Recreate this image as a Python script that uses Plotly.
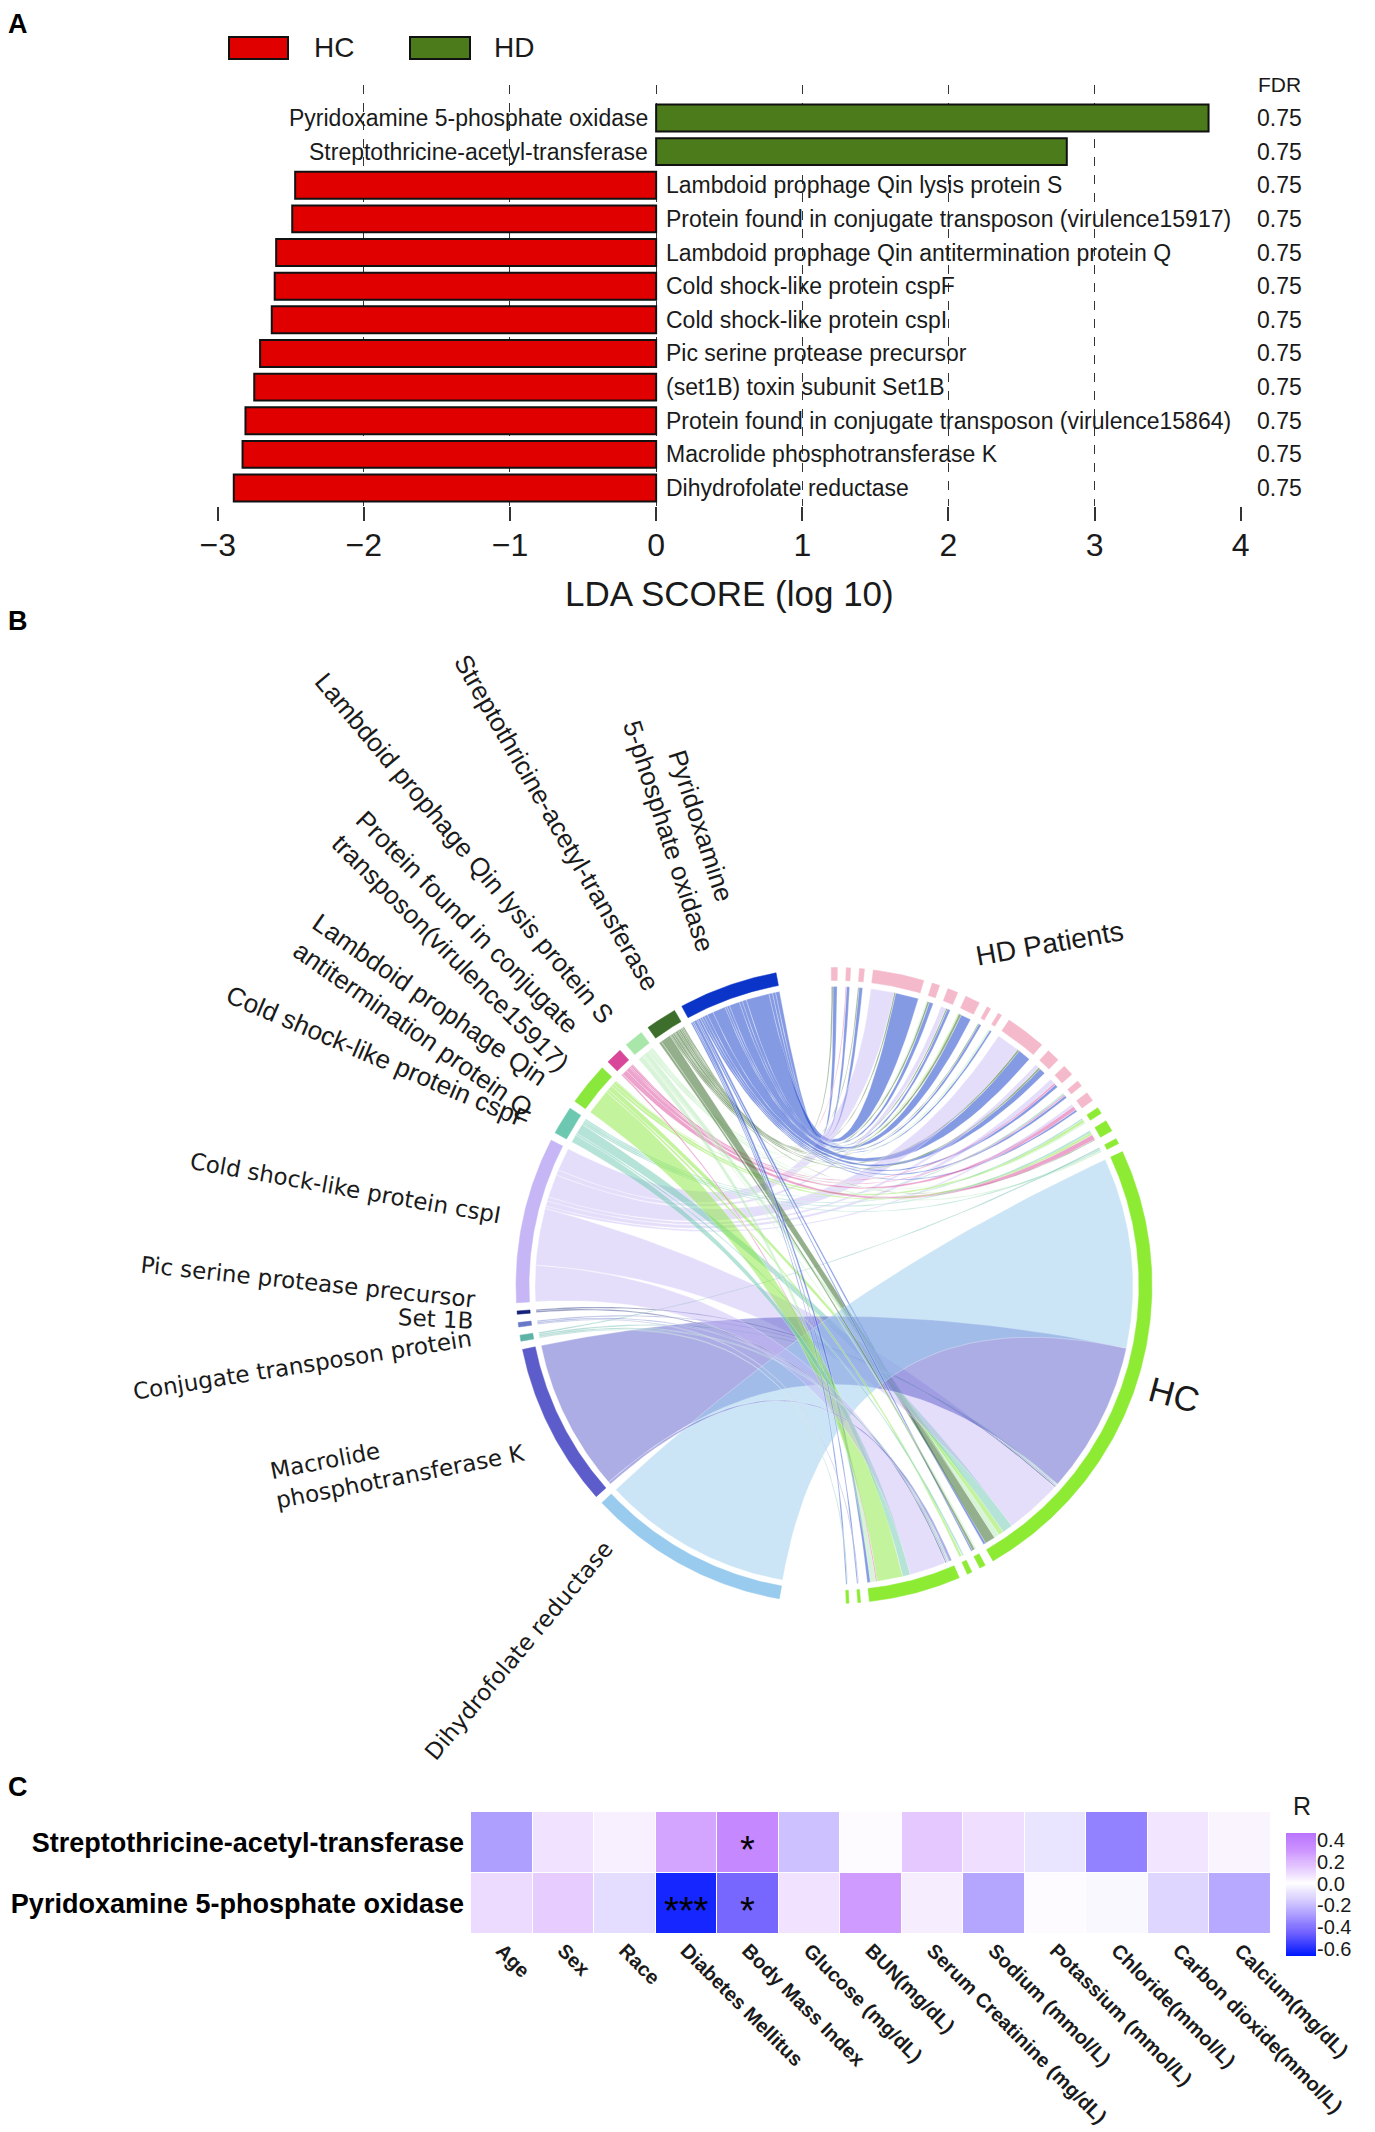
import numpy as np
import plotly.graph_objects as go

W, H = 1375, 2132


def px(x):
    return x / W


def py(y):
    return 1 - y / H


# ---------------- Panel A : LEfSe LDA scores ----------------
lda_features = [
    "Pyridoxamine 5-phosphate oxidase",
    "Streptothricine-acetyl-transferase",
    "Lambdoid prophage Qin lysis protein S",
    "Protein found in conjugate transposon (virulence15917)",
    "Lambdoid prophage Qin antitermination protein Q",
    "Cold shock-like protein cspF",
    "Cold shock-like protein cspI",
    "Pic serine protease precursor",
    "(set1B) toxin subunit Set1B",
    "Protein found in conjugate transposon (virulence15864)",
    "Macrolide phosphotransferase K",
    "Dihydrofolate reductase",
]
lda_scores = [3.78, 2.81, -2.47, -2.49, -2.60, -2.61, -2.63, -2.71, -2.75, -2.81, -2.83, -2.89]
lda_groups = ["HD", "HD", "HC", "HC", "HC", "HC", "HC", "HC", "HC", "HC", "HC", "HC"]
lda_fdr = ["0.75", "0.75", "0.75", "0.75", "0.75", "0.75", "0.75", "0.75", "0.75", "0.75", "0.75", "0.75"]
lda_ticks = [-3, -2, -1, 0, 1, 2, 3, 4]
group_names = ["HC", "HD"]
group_colors = {"HC": "#E00000", "HD": "#4B7B1A"}

# ---------------- Panel B : chord diagram ----------------
chord_codes = ["PNPO", "SAT", "LysS", "CT17", "AntQ", "CspF", "CspI", "Pic", "Set1B", "CT64", "MphK", "DHFR"]
chord_colors = ["#0A35C8", "#3D6E2B", "#A9E6A9", "#D9479A", "#8AE83C", "#6CC8B0",
                "#C6B6F6", "#14237A", "#6878C8", "#5EB3A6", "#5C5CCB", "#98CBEE"]
chord_samples = ["HD01", "HD02", "HD03", "HD04", "HD05", "HD06", "HD07", "HD08", "HD09", "HD10",
                 "HD11", "HD12", "HD13", "HD14",
                 "HC01", "HC02", "HC03", "HC04", "HC05", "HC06", "HC07", "HC08", "HC09"]
chord_sample_groups = ["HD"] * 14 + ["HC"] * 9
sample_group_colors = {"HD": "#F4BACB", "HC": "#8DEB33"}

link_feature = [
    "PNPO", "SAT",
    "PNPO", "CT17",
    "PNPO", "SAT",
    "PNPO", "SAT", "CspI",
    "PNPO", "SAT", "LysS",
    "PNPO", "SAT", "CspI",
    "PNPO", "SAT", "AntQ",
    "PNPO", "SAT",
    "PNPO", "LysS",
    "PNPO", "SAT", "CspI",
    "PNPO", "SAT", "CspI",
    "PNPO", "CT17", "CspI",
    "PNPO", "CT17", "CspF",
    "PNPO", "CT17", "CspI",
    "LysS", "AntQ", "CspF",
    "SAT", "CT17", "AntQ", "CspF",
    "LysS", "CspF", "CT64",
    "PNPO", "SAT", "LysS", "AntQ", "CspF", "CspI", "Pic", "Set1B", "CT64", "MphK", "DHFR",
    "PNPO", "SAT", "LysS",
    "AntQ", "CspF",
    "PNPO", "CT17", "LysS", "AntQ", "CspF", "CspI", "Pic", "Set1B", "CT64", "MphK",
    "PNPO", "Set1B",
    "PNPO", "CT64",
]
link_sample = [
    "HD01", "HD01",
    "HD02", "HD02",
    "HD03", "HD03",
    "HD04", "HD04", "HD04",
    "HD05", "HD05", "HD05",
    "HD06", "HD06", "HD06",
    "HD07", "HD07", "HD07",
    "HD08", "HD08",
    "HD09", "HD09",
    "HD10", "HD10", "HD10",
    "HD11", "HD11", "HD11",
    "HD12", "HD12", "HD12",
    "HD13", "HD13", "HD13",
    "HD14", "HD14", "HD14",
    "HC01", "HC01", "HC01",
    "HC02", "HC02", "HC02", "HC02",
    "HC03", "HC03", "HC03",
    "HC04", "HC04", "HC04", "HC04", "HC04", "HC04", "HC04", "HC04", "HC04", "HC04", "HC04",
    "HC05", "HC05", "HC05",
    "HC06", "HC06",
    "HC07", "HC07", "HC07", "HC07", "HC07", "HC07", "HC07", "HC07", "HC07", "HC07",
    "HC08", "HC08",
    "HC09", "HC09",
]
link_weight = [
    0.8, 0.3,
    0.6, 0.2,
    0.7, 0.2,
    4.5, 0.3, 4.5,
    0.8, 0.4, 0.2,
    0.6, 0.3, 1.0,
    2.0, 0.5, 0.2,
    0.5, 0.2,
    0.4, 0.3,
    2.5, 0.4, 4.5,
    1.2, 0.4, 0.8,
    0.6, 0.4, 1.0,
    0.5, 0.3, 0.3,
    0.4, 0.8, 0.5,
    0.3, 0.6, 0.3,
    0.2, 1.0, 0.5, 0.4,
    0.4, 0.3, 0.3,
    0.5, 2.0, 1.0, 1.0, 2.0, 11.0, 0.3, 0.3, 0.3, 29.5, 37.0,
    0.3, 0.5, 0.3,
    0.5, 0.4,
    0.6, 0.3, 1.0, 5.0, 1.5, 7.0, 0.3, 0.3, 0.3, 0.5,
    0.3, 0.2,
    0.3, 0.2,
]

# ---------------- Panel C : correlation heatmap ----------------
heat_rows = ["Streptothricine-acetyl-transferase", "Pyridoxamine 5-phosphate oxidase"]
heat_cols = ["Age", "Sex", "Race", "Diabetes Mellitus", "Body Mass Index", "Glucose (mg/dL)",
             "BUN(mg/dL)", "Serum Creatinine (mg/dL)", "Sodium (mmol/L)", "Potassium (mmol/L)",
             "Chloride(mmol/L)", "Carbon dioxide(mmol/L)", "Calcium(mg/dL)"]
r_streptothricine = [-0.28, 0.08, 0.04, 0.25, 0.36, -0.18, 0.01, 0.15, 0.09, -0.08, -0.36, 0.07, 0.03]
r_pyridoxamine = [0.10, 0.14, -0.10, -0.62, -0.43, 0.08, 0.28, 0.05, -0.26, 0.01, -0.02, -0.12, -0.25]
sig_streptothricine = ["", "", "", "", "*", "", "", "", "", "", "", "", ""]
sig_pyridoxamine = ["", "", "", "***", "*", "", "", "", "", "", "", "", ""]
r_ticks = [-0.6, -0.4, -0.2, 0.0, 0.2, 0.4]
r_min, r_max = -0.66, 0.46

# =====================================================================
fig = go.Figure()
annotations = []
shapes = []
SANS = "Liberation Sans, Arial, sans-serif"
DEJA = "DejaVu Sans, sans-serif"

# ----- Panel A bars -----
for g in group_names:
    xs = [s for s, gg in zip(lda_scores, lda_groups) if gg == g]
    ys = [f for f, gg in zip(lda_features, lda_groups) if gg == g]
    fig.add_trace(go.Bar(x=xs, y=ys, orientation="h", width=0.8,
                         marker=dict(color=group_colors[g], line=dict(color="#111", width=2)),
                         xaxis="x", yaxis="y", showlegend=False, hoverinfo="skip"))

for f, s, q in zip(lda_features, lda_scores, lda_fdr):
    if s > 0:
        annotations.append(dict(x=0, y=f, xref="x", yref="y", text=f, showarrow=False,
                                xanchor="right", xshift=-6, font=dict(family=SANS, size=23, color="#1a1a1a")))
    else:
        annotations.append(dict(x=0, y=f, xref="x", yref="y", text=f, showarrow=False,
                                xanchor="left", xshift=8, font=dict(family=SANS, size=23, color="#1a1a1a")))
    annotations.append(dict(x=px(1271), y=f, xref="paper", yref="y", text=q, showarrow=False,
                            xanchor="center", font=dict(family=SANS, size=23, color="#1a1a1a")))
annotations.append(dict(x=px(1271), y=py(76), xref="paper", yref="paper", text="FDR", showarrow=False,
                        xanchor="center", yanchor="middle", font=dict(family=SANS, size=21, color="#1a1a1a")))
annotations.append(dict(x=px(721), y=py(585), xref="paper", yref="paper", text="LDA SCORE (log 10)",
                        showarrow=False, xanchor="center", yanchor="middle",
                        font=dict(family=SANS, size=35, color="#1a1a1a")))

# legend of panel A
for (g, bx0, bx1, tx) in [("HC", 221, 280, 304), ("HD", 402, 462, 484)]:
    shapes.append(dict(type="rect", xref="paper", yref="paper", x0=px(bx0), x1=px(bx1),
                       y0=py(51), y1=py(29), fillcolor=group_colors[g], line=dict(color="#111", width=2)))
    annotations.append(dict(x=px(tx), y=py(40), xref="paper", yref="paper", text=g, showarrow=False,
                            xanchor="left", yanchor="middle", font=dict(family=SANS, size=28, color="#1a1a1a")))

# ----- Panel B chord -----
R_RIB = 299.0
R_IN, R_OUT = 305.0, 318.0
FEAT_START, FEAT_GAP = 100.5, 1.5
SAMP_TOP, SAMP_GAP = 90.5, 1.6

feat_tot = {c: 0.0 for c in chord_codes}
samp_tot = {s: 0.0 for s in chord_samples}
for f, s, w in zip(link_feature, link_sample, link_weight):
    feat_tot[f] += w
    samp_tot[s] += w

feat_sector = {}
cur = FEAT_START
for c in chord_codes:
    feat_sector[c] = (cur, cur + feat_tot[c])
    cur += feat_tot[c] + FEAT_GAP

samp_sector = {}
cur = SAMP_TOP
for s in chord_samples:
    samp_sector[s] = (cur - samp_tot[s], cur)
    cur = cur - samp_tot[s] - SAMP_GAP

link_pos_f = {}
link_pos_s = {}
for c in chord_codes:
    off = feat_sector[c][0]
    for s in chord_samples:
        for i, (f, ss, w) in enumerate(zip(link_feature, link_sample, link_weight)):
            if f == c and ss == s:
                link_pos_f[i] = (off, off + w)
                off += w
for s in chord_samples:
    off = samp_sector[s][0]
    for c in chord_codes:
        for i, (f, ss, w) in enumerate(zip(link_feature, link_sample, link_weight)):
            if f == c and ss == s:
                link_pos_s[i] = (off, off + w)
                off += w


def arc_pts(r, t1, t2):
    n = max(4, int(abs(t2 - t1) * 2) + 2)
    t = np.radians(np.linspace(t1, t2, n))
    return list(r * np.cos(t)), list(r * np.sin(t))


def bez_pts(t_from, t_to, r):
    p0 = np.array([r * np.cos(np.radians(t_from)), r * np.sin(np.radians(t_from))])
    p2 = np.array([r * np.cos(np.radians(t_to)), r * np.sin(np.radians(t_to))])
    tt = np.linspace(0, 1, 40)
    pts = np.outer((1 - tt) ** 2, p0) + np.outer(tt ** 2, p2)
    return list(pts[:, 0]), list(pts[:, 1])


def hex_rgba(h, a):
    h = h.lstrip("#")
    return "rgba(%d,%d,%d,%.2f)" % (int(h[0:2], 16), int(h[2:4], 16), int(h[4:6], 16), a)


ribbon_alpha = {"PNPO": 0.5, "SAT": 0.55, "LysS": 0.45, "CT17": 0.5, "AntQ": 0.5, "CspF": 0.5,
                "CspI": 0.45, "Pic": 0.5, "Set1B": 0.5, "CT64": 0.5, "MphK": 0.5, "DHFR": 0.5}

for i in range(len(link_weight)):
    f = link_feature[i]
    a1, a2 = link_pos_f[i]
    b1, b2 = link_pos_s[i]
    b1 += 360
    b2 += 360
    xs, ys = [], []
    x, y = arc_pts(R_RIB, a1, a2); xs += x; ys += y
    x, y = bez_pts(a2, b1, R_RIB); xs += x; ys += y
    x, y = arc_pts(R_RIB, b1, b2); xs += x; ys += y
    x, y = bez_pts(b2, a1, R_RIB); xs += x; ys += y
    col = chord_colors[chord_codes.index(f)]
    fig.add_trace(go.Scatter(x=xs, y=ys, mode="lines", fill="toself",
                             fillcolor=hex_rgba(col, ribbon_alpha[f]),
                             line=dict(color="rgba(255,255,255,0.5)", width=0.6),
                             xaxis="x2", yaxis="y2", showlegend=False, hoverinfo="skip"))


def track(t1, t2, color):
    xo, yo = arc_pts(R_OUT, t1, t2)
    xi, yi = arc_pts(R_IN, t2, t1)
    fig.add_trace(go.Scatter(x=xo + xi + [xo[0]], y=yo + yi + [yo[0]], mode="lines", fill="toself",
                             fillcolor=color, line=dict(color=color, width=0.5),
                             xaxis="x2", yaxis="y2", showlegend=False, hoverinfo="skip"))


for c, col in zip(chord_codes, chord_colors):
    track(feat_sector[c][0], feat_sector[c][1], col)
for s, g in zip(chord_samples, chord_sample_groups):
    track(samp_sector[s][0], samp_sector[s][1], sample_group_colors[g])

chord_labels = [
    ("Pyridoxamine<br>5-phosphate oxidase", -150, 455, 72, "center", SANS, 26),
    ("Streptothricine-acetyl-transferase", -278, 463, 60, "center", SANS, 26),
    ("Lambdoid prophage Qin lysis protein S", -370, 437, 50, "center", SANS, 26),
    ("Protein found in conjugate<br>transposon(virulence15917)", -372, 344, 45, "left", SANS, 26),
    ("Lambdoid prophage Qin<br>antitermination protein Q", -412, 270, 35, "left", SANS, 26),
    ("Cold shock-like protein cspF", -456, 229, 23, "center", SANS, 26),
    ("Cold shock-like protein cspI", -489, 98, 10, "center", DEJA, 23),
    ("Pic serine protease precursor", -526, 4, 6, "center", DEJA, 23),
    ("Set 1B", -398, -33, 3, "center", DEJA, 23),
    ("Conjugate transposon protein", -532, -79, -9, "center", DEJA, 23),
    ("Macrolide<br>phosphotransferase K", -437, -176, -11, "left", DEJA, 23),
    ("Dihydrofolate reductase", -316, -365, -50, "center", DEJA, 23),
    ("HD Patients", 215, 342, -10, "center", SANS, 28),
    ("HC", 340, -109, 15, "center", SANS, 35),
]
for txt, lx, ly, ang, al, fam, sz in chord_labels:
    annotations.append(dict(x=lx, y=ly, xref="x2", yref="y2", text=txt, showarrow=False,
                            textangle=ang, align=al, xanchor="center", yanchor="middle",
                            font=dict(family=fam, size=sz, color="#1a1a1a")))

# ----- Panel C heatmap -----
def nz(v):
    return (v - r_min) / (r_max - r_min)


colorscale = [
    [0.0, "#0018FF"],
    [nz(-0.45), "#7060FF"],
    [nz(-0.30), "#A898FF"],
    [nz(-0.15), "#D6CCFF"],
    [nz(0.0), "#FFFFFF"],
    [nz(0.15), "#E4C8FF"],
    [nz(0.30), "#CC94FF"],
    [1.0, "#BA74FF"],
]
fig.add_trace(go.Heatmap(
    z=[r_streptothricine, r_pyridoxamine], x=heat_cols, y=heat_rows,
    zmin=r_min, zmax=r_max, colorscale=colorscale, xgap=1, ygap=1, showscale=False,
    xaxis="x3", yaxis="y3", hoverinfo="skip"))
for row, sigs in zip(heat_rows, [sig_streptothricine, sig_pyridoxamine]):
    for col, sg in zip(heat_cols, sigs):
        if sg:
            annotations.append(dict(x=col, y=row, xref="x3", yref="y3", text=sg, showarrow=False,
                                    yshift=-7, font=dict(family=SANS, size=38, color="#000")))

# colour key built from the same colour scale
cb_vals = list(np.linspace(r_min, r_max, 120))
fig.add_trace(go.Heatmap(z=[[v] for v in cb_vals], x=[0], y=cb_vals, zmin=r_min, zmax=r_max,
                         colorscale=colorscale, showscale=False, xaxis="x4", yaxis="y4", hoverinfo="skip"))
annotations.append(dict(x=px(1294), y=py(1798), xref="paper", yref="paper", text="R", showarrow=False,
                        xanchor="center", yanchor="middle", font=dict(family=SANS, size=25, color="#1a1a1a")))

for letter, yy in [("A", 16), ("B", 613), ("C", 1779)]:
    annotations.append(dict(x=px(10), y=py(yy), xref="paper", yref="paper", text=letter, showarrow=False,
                            xanchor="center", yanchor="middle",
                            font=dict(family=SANS, size=27, color="#000", weight="bold")))

fig.update_layout(
    template="none",
    width=W, height=H, margin=dict(l=0, r=0, t=0, b=0, autoexpand=False),
    paper_bgcolor="white", plot_bgcolor="white", showlegend=False, barmode="overlay",
    xaxis=dict(domain=[px(209.7), px(1232.7)], anchor="y", range=[-3, 4], tickvals=lda_ticks,
               ticks="outside", ticklen=14, tickwidth=1.5, tickcolor="#333",
               showgrid=True, gridcolor="#333", griddash="dash", gridwidth=1.1,
               zeroline=False, showline=False, ticklabelstandoff=-3, automargin=False,
               tickfont=dict(family=SANS, size=32, color="#1a1a1a")),
    yaxis=dict(domain=[py(498), py(77)], anchor="x", type="category", categoryarray=lda_features,
               categoryorder="array", range=[11.535, -0.981], showticklabels=False, showgrid=False,
               zeroline=False, ticks="", showline=False, automargin=False),
    xaxis2=dict(domain=[0, 1], anchor="y2", range=[-826, 549], visible=False, automargin=False),
    yaxis2=dict(domain=[py(1740), py(600)], anchor="x2", range=[-462.5, 677.5], visible=False,
                automargin=False),
    xaxis3=dict(domain=[px(463), px(1263)], anchor="y3", tickangle=45, ticks="", showgrid=False,
                zeroline=False, showline=False, automargin=False,
                tickfont=dict(family=SANS, size=20, color="#1a1a1a", weight="bold")),
    yaxis3=dict(domain=[py(1926), py(1804)], anchor="x3", autorange="reversed", ticks="",
                showgrid=False, zeroline=False, showline=False, ticklabelstandoff=6, automargin=False,
                tickfont=dict(family=SANS, size=27, color="#000", weight="bold")),
    xaxis4=dict(domain=[px(1278), px(1308)], anchor="y4", visible=False, automargin=False),
    yaxis4=dict(domain=[py(1948), py(1825)], anchor="x4", side="right", range=[r_min, r_max],
                tickvals=r_ticks, ticktext=["%.1f" % v for v in r_ticks], ticks="",
                showgrid=False, zeroline=False, showline=False, automargin=False, ticklabelstandoff=0,
                tickfont=dict(family=SANS, size=20, color="#1a1a1a")),
    annotations=annotations, shapes=shapes,
)

fig.write_html("out.html")
